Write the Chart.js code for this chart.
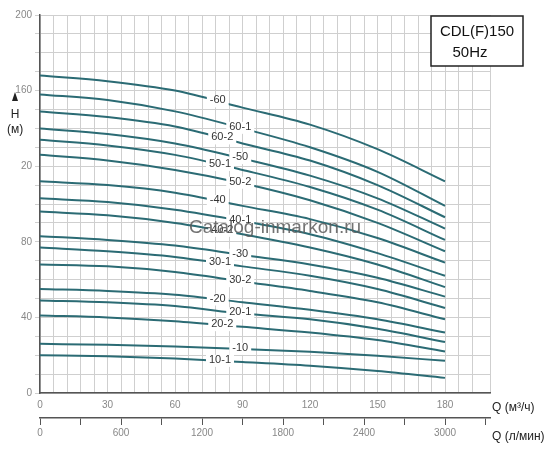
<!DOCTYPE html>
<html>
<head>
<meta charset="utf-8">
<script src="https://cdn.jsdelivr.net/npm/chart.js@4"></script>
<style>body{margin:0;background:#fff}#wrap{width:550px;height:450px}</style>
</head>
<body>
<div id="wrap"><canvas id="c"></canvas></div>
<script>
// Q points, m3/h
var flows = [0, 30, 60, 90, 120, 150, 180];
var curveNames = ['-60','60-1','60-2','-50','50-1','50-2','-40','40-1','40-2','-30','30-1','30-2','-20','20-1','20-2','-10','10-1'];
var heads = [
    [168,165,160,151,142,129,112],
    [158,155,149,140,130,117,99],
    [149,146,141,132,123,110,93],
    [140,137,132,124,115,103,87],
    [134,131,126,118,109,97,81],
    [126,123,118,111,102,90,75],
    [112,110,106,99,92,82,69],
    [103,101,97,91,84,74,62],
    [96,94,90,84,77,68,56],
    [83,81,78,73,68,61,51],
    [77,75,72,67,62,55,45],
    [68,67,64,59,54,48,39],
    [55,54,52,48,44,39,32],
    [49,48,46,42,39,34,27],
    [41,40,38,35,32,28,22],
    [26,25.5,24.6,23.3,21.8,19.7,17],
    [20,19.4,18.2,16.4,14.4,11.6,8]
];
var labelQ = [79,89,81,89,80,89,79,89,81,89,80,89,79,89,81,89,80];
var yTickLabels = {0:'0',40:'40',80:'80',120:'20',160:'160',200:'200'};

var datasets = curveNames.map(function(n, i){
    return {
        label: n,
        data: flows.map(function(q, j){ return {x: q, y: heads[i][j]}; }),
        borderColor: '#2b6b74',
        borderWidth: 2,
        pointRadius: 0,
        cubicInterpolationMode: 'monotone',
        fill: false
    };
});

var overlay = {
    id: 'overlay',
    afterDatasetsDraw: function(chart){
        var c = chart.ctx, xs = chart.scales.x;
        c.save();
        c.font = '11px "Liberation Sans", Arial';
        c.textAlign = 'center';
        c.textBaseline = 'middle';
        curveNames.forEach(function(n, i){
            var q = labelQ[i];
            var pts = chart.getDatasetMeta(i).data, px = xs.getPixelForValue(q), py = null;
            for (var k = 0; k < pts.length - 1; k++) {
                if (px >= pts[k].x && px <= pts[k+1].x) {
                    var t = (px - pts[k].x) / (pts[k+1].x - pts[k].x);
                    py = pts[k].y + t * (pts[k+1].y - pts[k].y);
                }
            }
            var w = c.measureText(n).width + 6;
            c.fillStyle = '#fff';
            c.fillRect(px - w/2, py - 6, w, 12);
            c.fillStyle = '#333';
            c.fillText(n, px, py - 1);
        });
        // watermark
        c.font = '19px "Liberation Sans", Arial';
        c.fillStyle = 'rgba(90,90,90,0.85)';
        c.fillText('Catalog-inmarkon.ru', 275, 228);
        // title box
        c.fillStyle = '#fff';
        c.fillRect(431, 16, 92, 50);
        c.strokeStyle = '#222';
        c.lineWidth = 1.5;
        c.strokeRect(431, 16, 92, 50);
        c.fillStyle = '#111';
        c.font = '15px "Liberation Sans", Arial';
        c.fillText('CDL(F)150', 477, 32);
        c.fillText('50Hz', 470, 53);
        // axis titles
        c.font = '12px "Liberation Sans", Arial';
        c.fillStyle = '#222';
        c.textAlign = 'left';
        c.fillText('Q (м³/ч)', 492, 408);
        c.fillText('Q (л/мин)', 492, 437);
        c.textAlign = 'center';
        c.fillText('H', 15, 115);
        c.fillText('(м)', 15, 130);
        c.beginPath();
        c.moveTo(15, 92); c.lineTo(12, 101); c.lineTo(18, 101); c.closePath();
        c.fill();
        c.restore();
    }
};

new Chart(document.getElementById('c'), {
    type: 'line',
    data: {datasets: datasets},
    options: {
        responsive: true,
        maintainAspectRatio: false,
        animation: false,
        layout: {padding: {left: 0, right: 60, top: 15, bottom: 0}},
        plugins: {legend: {display: false}, tooltip: {enabled: false}},
        scales: {
            x: {
                type: 'linear', min: 0, max: 200,
                afterFit: function(s){ s.height = 25; },
                grid: {color: '#cfcfcf', tickLength: 0},
                border: {color: '#555', width: 1.5},
                ticks: {
                    stepSize: 6, autoSkip: false, maxRotation: 0, padding: 6,
                    color: '#888', font: {size: 10},
                    callback: function(v){ return (v % 30 === 0 && v <= 180) ? v : ''; }
                }
            },
            x2: {
                type: 'linear', position: 'bottom', min: 0, max: 3333.33,
                afterFit: function(s){ s.height = 32; },
                grid: {drawOnChartArea: false, color: '#555', tickLength: 7},
                border: {color: '#555', width: 1.5},
                afterBuildTicks: function(s){
                    var t = [];
                    for (var v = 0; v <= 3300; v += 300) t.push({value: v});
                    s.ticks = t;
                },
                ticks: {
                    autoSkip: false, maxRotation: 0, color: '#888', font: {size: 10}, padding: 2,
                    callback: function(v){ return (v % 600 === 0 && v <= 3000) ? v : ''; }
                }
            },
            y: {
                min: 0, max: 200,
                afterFit: function(s){ s.width = 40; },
                grid: {color: '#cfcfcf', tickLength: 5},
                border: {color: '#555', width: 1.5},
                ticks: {
                    stepSize: 10, autoSkip: false, color: '#888', font: {size: 10},
                    callback: function(v){ return yTickLabels[v] !== undefined ? yTickLabels[v] : ''; }
                }
            }
        }
    },
    plugins: [overlay]
});
</script>
</body>
</html>
